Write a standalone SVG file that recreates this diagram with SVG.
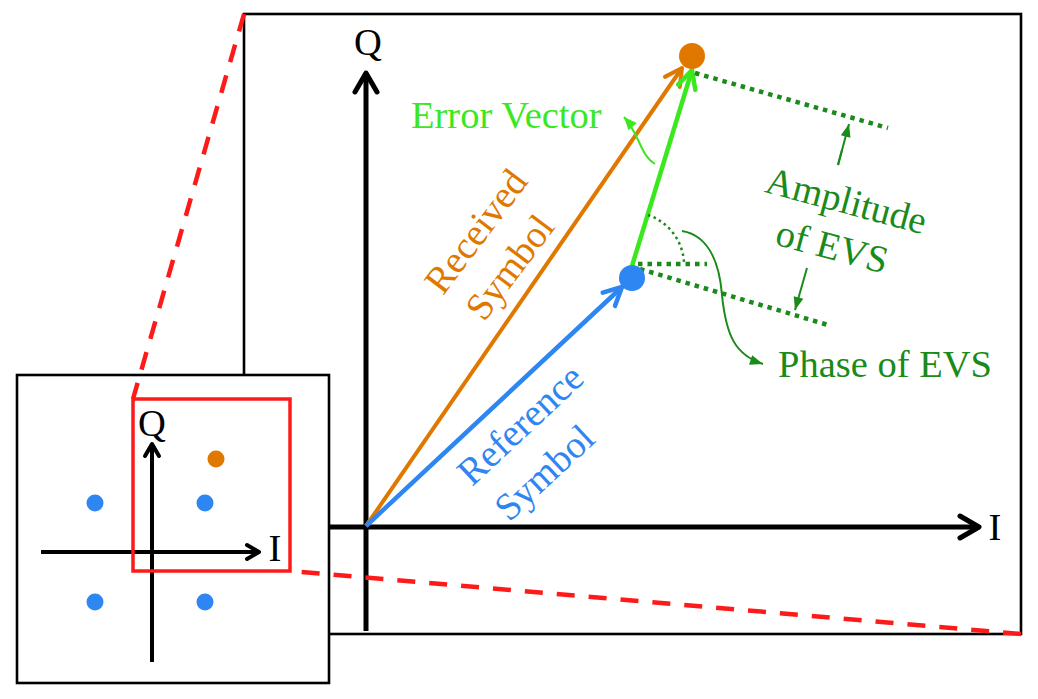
<svg xmlns="http://www.w3.org/2000/svg" width="1038" height="699" viewBox="0 0 1038 699">
<style>
.box{fill:#fff;stroke:#000;stroke-width:2.6}
.axis{stroke:#000;stroke-width:5;fill:none}
.axsm{stroke:#000;stroke-width:4;fill:none}
.lbl{font-family:"Liberation Serif","Times New Roman",serif;font-size:38.5px}
.red{stroke:#ff1a1a;fill:none}
.dots{stroke:#1a8a1a;stroke-width:4.5;stroke-dasharray:4.5 5;fill:none}
.thin{stroke:#1a8a1a;stroke-width:2;fill:none}
</style>
<defs>
<marker id="ahK" markerUnits="userSpaceOnUse" viewBox="-26 -16 32 32" markerWidth="32" markerHeight="32" refX="0" refY="0" orient="auto" overflow="visible"><path d="M-19,-11 L0,0 L-19,11" fill="none" stroke="#000" stroke-width="5" stroke-linecap="round" stroke-linejoin="round"/></marker>
<marker id="ahKs" markerUnits="userSpaceOnUse" viewBox="-16 -10 20 20" markerWidth="20" markerHeight="20" refX="0" refY="0" orient="auto" overflow="visible"><path d="M-12,-7 L0,0 L-12,7" fill="none" stroke="#000" stroke-width="4" stroke-linecap="round" stroke-linejoin="round"/></marker>
<marker id="ahO" markerUnits="userSpaceOnUse" viewBox="-24 -14 28 28" markerWidth="28" markerHeight="28" refX="0" refY="0" orient="auto" overflow="visible"><path d="M-17,-9 L0,0 L-17,9" fill="none" stroke="#e07800" stroke-width="4" stroke-linecap="round" stroke-linejoin="round"/></marker>
<marker id="ahB" markerUnits="userSpaceOnUse" viewBox="-24 -14 28 28" markerWidth="28" markerHeight="28" refX="0" refY="0" orient="auto" overflow="visible"><path d="M-18,-9 L0,0 L-18,9" fill="none" stroke="#2e86f2" stroke-width="4.5" stroke-linecap="round" stroke-linejoin="round"/></marker>
<marker id="ahG" markerUnits="userSpaceOnUse" viewBox="-24 -14 28 28" markerWidth="28" markerHeight="28" refX="0" refY="0" orient="auto" overflow="visible"><path d="M-18,-9 L0,0 L-18,9" fill="none" stroke="#3be81f" stroke-width="4.5" stroke-linecap="round" stroke-linejoin="round"/></marker>
<marker id="triD" markerUnits="userSpaceOnUse" viewBox="-14 -7 16 14" markerWidth="16" markerHeight="14" refX="0" refY="0" orient="auto" overflow="visible"><path d="M0,0 L-13,-5 L-13,5 Z" fill="#1a8a1a"/></marker>
<marker id="triG" markerUnits="userSpaceOnUse" viewBox="-14 -7 16 14" markerWidth="16" markerHeight="14" refX="0" refY="0" orient="auto" overflow="visible"><path d="M0,0 L-13,-5.5 L-13,5.5 Z" fill="#3be81f"/></marker>
</defs>

<g id="main-panel">
<rect class="box" x="244" y="14" width="777" height="620"/>
</g>

<g id="main-axes">
<line class="axis" x1="366" y1="631" x2="366" y2="73" marker-end="url(#ahK)"/>
<line class="axis" x1="300" y1="527" x2="979" y2="527" marker-end="url(#ahK)"/>
<text class="lbl" x="368" y="55" text-anchor="middle" font-size="32">Q</text>
<text class="lbl" x="995" y="540" text-anchor="middle" font-size="36">I</text>
</g>

<g id="connectors">
<line x1="366" y1="526" x2="682" y2="68" stroke="#e07800" stroke-width="4" marker-end="url(#ahO)"/>
<line x1="366" y1="526" x2="622" y2="287" stroke="#2e86f2" stroke-width="4.5" marker-end="url(#ahB)"/>
<line x1="632" y1="266" x2="692" y2="70" stroke="#3be81f" stroke-width="4.5" marker-end="url(#ahG)"/>
<line class="dots" x1="695" y1="73" x2="888" y2="128"/>
<line class="dots" x1="638" y1="264" x2="707" y2="264"/>
<line class="dots" x1="640" y1="269" x2="828" y2="325"/>
<path d="M648,215 A53,53 0 0 1 684,263" fill="none" stroke="#1a8a1a" stroke-width="2.5" stroke-dasharray="2.5 3.5"/>
<line class="thin" x1="842" y1="150" x2="838" y2="165"/>
<line class="thin" x1="838" y1="165" x2="849" y2="124" marker-end="url(#triD)"/>
<line class="thin" x1="807" y1="268" x2="795" y2="310" marker-end="url(#triD)"/>
<path class="thin" d="M682,231 C712,236 720,270 722,295 C726,335 735,355 763,364" marker-end="url(#triD)"/>
<path d="M655,164 C640,155 640,135 624,117" fill="none" stroke="#3be81f" stroke-width="2" marker-end="url(#triG)"/>
</g>

<g id="received-symbol">
<circle cx="692" cy="56" r="13" fill="#e07800"/>
<text class="lbl" fill="#e07800" text-anchor="middle" transform="translate(486,239) rotate(-53)">Received</text>
<text class="lbl" fill="#e07800" text-anchor="middle" transform="translate(520,275) rotate(-53)">Symbol</text>
</g>

<g id="reference-symbol">
<circle cx="632" cy="278" r="13" fill="#2e86f2"/>
<text class="lbl" fill="#2e86f2" text-anchor="middle" transform="translate(529,434) rotate(-43)">Reference</text>
<text class="lbl" fill="#2e86f2" text-anchor="middle" transform="translate(553,482) rotate(-43)">Symbol</text>
</g>

<g id="error-vector-label">
<text class="lbl" x="411" y="128" fill="#3be81f">Error Vector</text>
</g>

<g id="amplitude-label">
<text class="lbl" fill="#1a8a1a" text-anchor="middle" transform="translate(843,213) rotate(15)">Amplitude</text>
<text class="lbl" fill="#1a8a1a" text-anchor="middle" transform="translate(829,259) rotate(15)">of EVS</text>
</g>

<g id="phase-label">
<text class="lbl" x="778" y="377" fill="#1a8a1a">Phase of EVS</text>
</g>

<g id="inset">
<rect class="box" x="17" y="375" width="312" height="308"/>
<line class="axsm" x1="152" y1="662" x2="152" y2="444" marker-end="url(#ahKs)"/>
<line class="axsm" x1="41" y1="552" x2="259" y2="552" marker-end="url(#ahKs)"/>
<text class="lbl" x="152" y="436" text-anchor="middle" font-size="23">Q</text>
<text class="lbl" x="275" y="561" text-anchor="middle" font-size="25">I</text>
<circle cx="95" cy="503" r="8.5" fill="#2e86f2"/>
<circle cx="205" cy="503" r="8.5" fill="#2e86f2"/>
<circle cx="95" cy="602" r="8.5" fill="#2e86f2"/>
<circle cx="205" cy="602" r="8.5" fill="#2e86f2"/>
<circle cx="216" cy="459" r="8.5" fill="#e07800"/>
<rect class="red" x="133" y="399" width="157" height="172" stroke-width="3.5"/>
</g>

<g id="zoom-lines">
<line class="red" x1="244" y1="14" x2="133" y2="399" stroke-width="4.5" stroke-dasharray="18 14"/>
<line class="red" x1="1021" y1="634" x2="290" y2="571" stroke-width="4.5" stroke-dasharray="18 14"/>
</g>
</svg>
